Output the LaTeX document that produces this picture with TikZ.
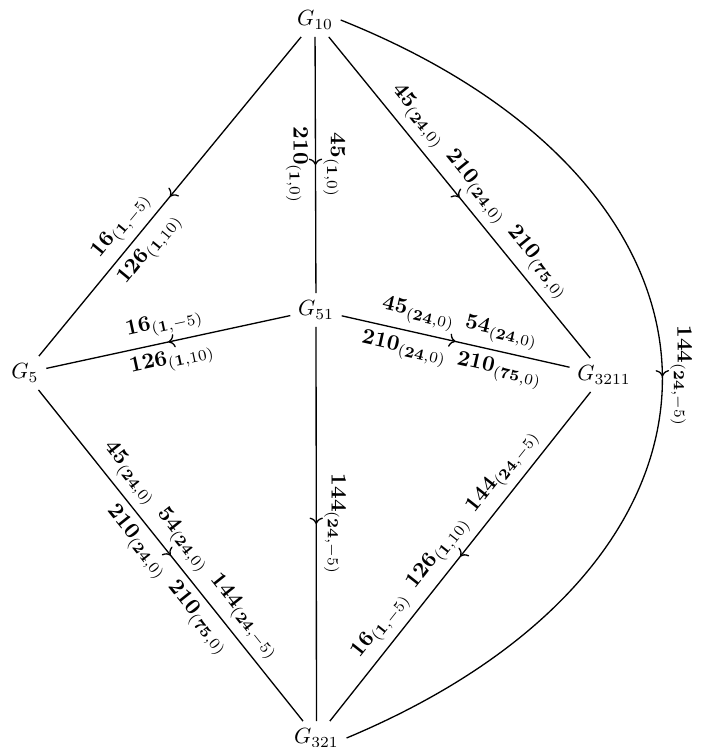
\documentclass[tikz,border=0pt]{standalone}
\usepackage{amsmath}
\usetikzlibrary{decorations.markings,arrows.meta}
\newcommand{\lb}[3]{\mathbf{#1}_{(\mathbf{#2},#3)}}
\begin{document}
\begin{tikzpicture}[x=0.455pt,y=-0.455pt,
  gnode/.style={inner sep=3.33pt},
  edge/.style={semithick,postaction={decorate,decoration={markings,mark=at position 0.5 with {\arrow{>}}}}},
  lab/.style={sloped,inner sep=3.2pt}]
\useasboundingbox (0,0) rectangle (712,747);
\node[gnode] (G10) at (315,20) {$G_{10}$};
\node[gnode] (G51) at (316,310) {$G_{51}$};
\node[gnode] (G5) at (25,373) {$G_5$};
\node[gnode] (G3211) at (604,375) {$G_{3211}$};
\node[gnode] (G321) at (316.5,738) {$G_{321}$};

\draw[edge] (G10) -- node[lab,above,pos=0.63]{$\lb{16}{1}{-5}$} node[lab,below,pos=0.63]{$\lb{126}{1}{10}$} (G5);
\draw[edge] (G10) -- node[lab,above]{$\lb{45}{1}{0}$} node[lab,below]{$\lb{210}{1}{0}$} (G51);
\draw[edge] (G10) -- node[lab,above,pos=0.52]{$\lb{45}{24}{0}\enspace\lb{210}{24}{0}\enspace\lb{210}{75}{0}$} (G3211);
\draw[edge] (G10.east) .. controls +(425,170) and +(425,-178) .. node[lab,above,pos=0.5]{$\lb{144}{24}{-5}$} (G321.east);
\draw[edge] (G51) -- node[lab,above]{$\lb{16}{1}{-5}$} node[lab,below]{$\lb{126}{1}{10}$} (G5);
\draw[edge] (G51) -- node[lab,above]{$\lb{45}{24}{0}\enspace\lb{54}{24}{0}$} node[lab,below]{$\lb{210}{24}{0}\enspace\lb{210}{75}{0}$} (G3211);
\draw[edge] (G51) -- node[lab,above]{$\lb{144}{24}{-5}$} (G321);
\draw[edge] (G5) -- node[lab,above,pos=0.52]{$\lb{45}{24}{0}\enspace\lb{54}{24}{0}\enspace\lb{144}{24}{-5}$} node[lab,below,pos=0.54]{$\lb{210}{24}{0}\enspace\lb{210}{75}{0}$} (G321);
\draw[edge] (G3211) -- node[lab,above]{$\lb{16}{1}{-5}\enspace\lb{126}{1}{10}\enspace\lb{144}{24}{-5}$} (G321);
\end{tikzpicture}
\end{document}
